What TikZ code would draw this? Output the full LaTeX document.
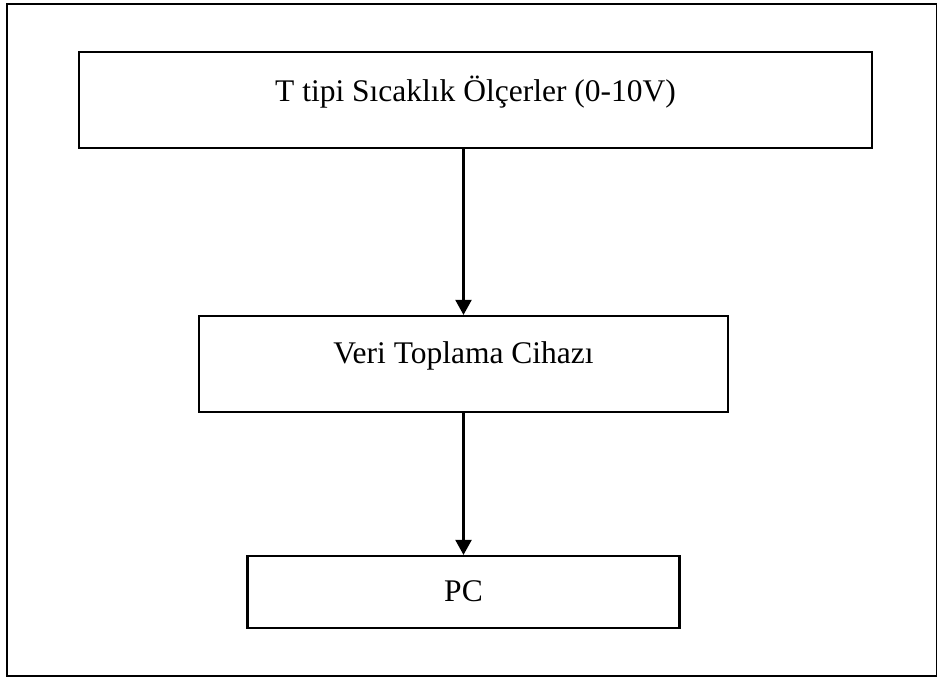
\documentclass[tikz,border=0pt]{standalone}
\usepackage{fontspec}
\setmainfont{Liberation Serif}
\usetikzlibrary{arrows.meta}
\begin{document}
\begin{tikzpicture}[x=1pt,y=-1pt,
  box/.style={draw,line width=2.2pt,inner sep=0pt},
  txt/.style={inner sep=0pt,anchor=base,font=\fontsize{31.5}{36}\selectfont},
  conn/.style={line width=2.2pt,-{Triangle[length=15pt,width=16pt]}}]
\useasboundingbox (0,0) rectangle (937,677);
\draw[line width=2.2pt] (7,4) rectangle (937,676);
\node[box,minimum width=793pt,minimum height=96pt] (t) at (475.5,100) {};
\node[box,minimum width=529pt,minimum height=96pt] (v) at (463.5,364) {};
\node[box,minimum width=432pt,minimum height=72pt] (p) at (463.5,592) {};
\node[txt] (tl) at ([yshift=-51pt]t.north) {T tipi Sıcaklık Ölçerler (0-10V)};
\node[txt] (vl) at ([yshift=-49pt]v.north) {Veri Toplama Cihazı};
\node[txt] (pl) at ([yshift=-47pt]p.north) {PC};
\draw[conn] (t.south -| v.north) -- (v.north);
\draw[conn] (v.south) -- (p.north);
\end{tikzpicture}
\end{document}
